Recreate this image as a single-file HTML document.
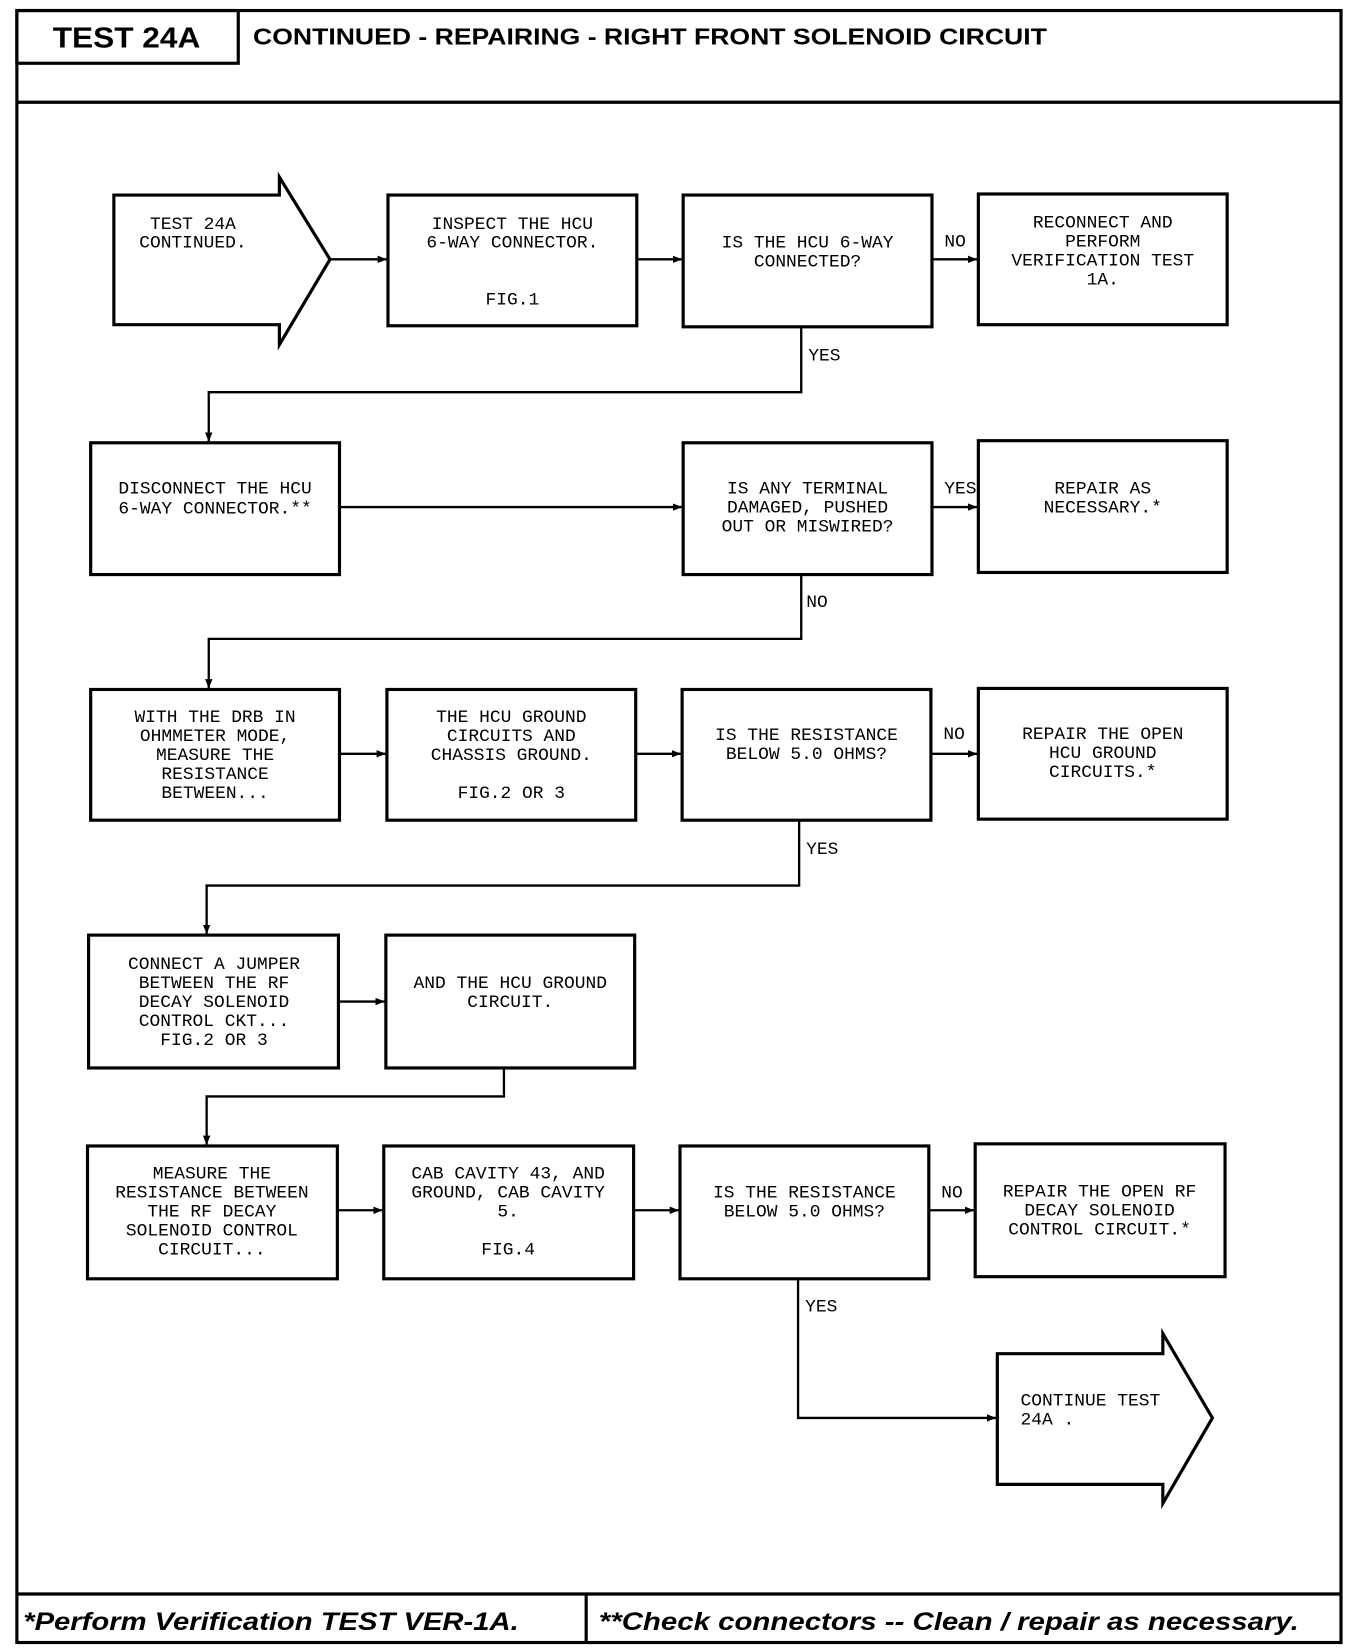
<!DOCTYPE html>
<html><head><meta charset="utf-8"><style>
html,body{margin:0;padding:0;background:#fff;}
svg{display:block;}
.t{font-family:"Liberation Mono",monospace;font-size:17px;fill:#000;text-anchor:middle;}
.l{text-anchor:start;}
</style></head><body>
<svg width="1360" height="1652" viewBox="0 0 1290 1567" xmlns="http://www.w3.org/2000/svg">
<defs><marker id="a" viewBox="0 0 10 10" refX="10" refY="5" markerWidth="4" markerHeight="4" orient="auto"><path d="M0,1 L10,5 L0,9 z" fill="#000"/></marker></defs>
<g fill="none" stroke="#000" stroke-width="3">
<rect x="16" y="10" width="1256" height="1548"/>
<rect x="16" y="10" width="210" height="50"/>
<line x1="16" y1="97" x2="1272" y2="97"/>
<line x1="16" y1="1512" x2="1272" y2="1512"/>
<line x1="556" y1="1512" x2="556" y2="1558"/>
<polygon points="108,185 265,185 265,168 313,246 265,327 265,308 108,308"/>
<rect x="368" y="185" width="236" height="124"/>
<rect x="648" y="185" width="236" height="125"/>
<rect x="928" y="184" width="236" height="124"/>
<rect x="86" y="420" width="236" height="125"/>
<rect x="648" y="420" width="236" height="125"/>
<rect x="928" y="418" width="236" height="125"/>
<rect x="86" y="654" width="236" height="124"/>
<rect x="367" y="654" width="236" height="124"/>
<rect x="647" y="654" width="236" height="124"/>
<rect x="928" y="653" width="236" height="124"/>
<rect x="84" y="887" width="237" height="126"/>
<rect x="366" y="887" width="236" height="126"/>
<rect x="83" y="1087" width="237" height="126"/>
<rect x="364" y="1087" width="237" height="126"/>
<rect x="645" y="1087" width="236" height="126"/>
<rect x="925" y="1085" width="237" height="126"/>
<polygon points="946,1284 1103,1284 1103,1265 1150,1345 1103,1426 1103,1408 946,1408"/>
</g>
<g fill="none" stroke="#000" stroke-width="2.2" marker-end="url(#a)">
<line x1="313" y1="246" x2="367" y2="246"/>
<line x1="604" y1="246" x2="647" y2="246"/>
<line x1="884" y1="246" x2="927" y2="246"/>
<polyline points="760,310 760,372 198,372 198,419"/>
<line x1="322" y1="481" x2="647" y2="481"/>
<line x1="884" y1="481" x2="927" y2="481"/>
<polyline points="760,545 760,606 198,606 198,653"/>
<line x1="322" y1="715" x2="366" y2="715"/>
<line x1="603" y1="715" x2="646" y2="715"/>
<line x1="883" y1="715" x2="927" y2="715"/>
<polyline points="758,778 758,840 196,840 196,886"/>
<line x1="321" y1="950" x2="365" y2="950"/>
<polyline points="478,1013 478,1040 196,1040 196,1086"/>
<line x1="320" y1="1148" x2="363" y2="1148"/>
<line x1="601" y1="1148" x2="644" y2="1148"/>
<line x1="881" y1="1148" x2="924" y2="1148"/>
<polyline points="757,1213 757,1345 945,1345"/>
</g>
<g style="font-family:'Liberation Sans',sans-serif;font-weight:bold;">
<text x="50" y="45" font-size="27" textLength="140" lengthAdjust="spacingAndGlyphs">TEST 24A</text>
<text x="240" y="42" font-size="22" textLength="753" lengthAdjust="spacingAndGlyphs">CONTINUED - REPAIRING - RIGHT FRONT SOLENOID CIRCUIT</text>
<text x="22" y="1546" font-size="24" font-style="italic" textLength="470" lengthAdjust="spacingAndGlyphs">*Perform Verification TEST VER-1A.</text>
<text x="568" y="1546" font-size="24" font-style="italic" textLength="664" lengthAdjust="spacingAndGlyphs">**Check connectors -- Clean / repair as necessary.</text>
</g>
<g class="t">
<text x="183" y="217">TEST 24A</text><text x="183" y="235">CONTINUED.</text>
<text x="486" y="217">INSPECT THE HCU</text><text x="486" y="235">6-WAY CONNECTOR.</text><text x="486" y="289">FIG.1</text>
<text x="766" y="235">IS THE HCU 6-WAY</text><text x="766" y="253">CONNECTED?</text>
<text x="1046" y="216">RECONNECT AND</text><text x="1046" y="234">PERFORM</text><text x="1046" y="252">VERIFICATION TEST</text><text x="1046" y="270">1A.</text>
<text x="906" y="234">NO</text><text x="782" y="342">YES</text>
<text x="204" y="468">DISCONNECT THE HCU</text><text x="204" y="487">6-WAY CONNECTOR.**</text>
<text x="766" y="468">IS ANY TERMINAL</text><text x="766" y="486">DAMAGED, PUSHED</text><text x="766" y="504">OUT OR MISWIRED?</text>
<text x="1046" y="468">REPAIR AS</text><text x="1046" y="486">NECESSARY.*</text>
<text x="911" y="468">YES</text><text x="775" y="576">NO</text>
<text x="204" y="685">WITH THE DRB IN</text><text x="204" y="703">OHMMETER MODE,</text><text x="204" y="721">MEASURE THE</text><text x="204" y="739">RESISTANCE</text><text x="204" y="757">BETWEEN...</text>
<text x="485" y="685">THE HCU GROUND</text><text x="485" y="703">CIRCUITS AND</text><text x="485" y="721">CHASSIS GROUND.</text><text x="485" y="757">FIG.2 OR 3</text>
<text x="765" y="702">IS THE RESISTANCE</text><text x="765" y="720">BELOW 5.0 OHMS?</text>
<text x="1046" y="701">REPAIR THE OPEN</text><text x="1046" y="719">HCU GROUND</text><text x="1046" y="737">CIRCUITS.*</text>
<text x="905" y="701">NO</text><text x="780" y="810">YES</text>
<text x="203" y="919">CONNECT A JUMPER</text><text x="203" y="937">BETWEEN THE RF</text><text x="203" y="955">DECAY SOLENOID</text><text x="203" y="973">CONTROL CKT...</text><text x="203" y="991">FIG.2 OR 3</text>
<text x="484" y="937">AND THE HCU GROUND</text><text x="484" y="955">CIRCUIT.</text>
<text x="201" y="1118">MEASURE THE</text><text x="201" y="1136">RESISTANCE BETWEEN</text><text x="201" y="1154">THE RF DECAY</text><text x="201" y="1172">SOLENOID CONTROL</text><text x="201" y="1190">CIRCUIT...</text>
<text x="482" y="1118">CAB CAVITY 43, AND</text><text x="482" y="1136">GROUND, CAB CAVITY</text><text x="482" y="1154">5.</text><text x="482" y="1190">FIG.4</text>
<text x="763" y="1136">IS THE RESISTANCE</text><text x="763" y="1154">BELOW 5.0 OHMS?</text>
<text x="1043" y="1135">REPAIR THE OPEN RF</text><text x="1043" y="1153">DECAY SOLENOID</text><text x="1043" y="1171">CONTROL CIRCUIT.*</text>
<text x="903" y="1136">NO</text><text x="779" y="1244">YES</text>
<text class="t l" x="968" y="1333">CONTINUE TEST</text><text class="t l" x="968" y="1351">24A .</text>
</g>
</svg>
</body></html>
